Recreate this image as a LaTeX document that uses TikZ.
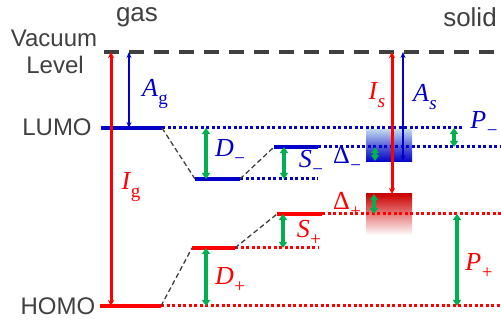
\documentclass[tikz,border=0pt]{standalone}
\usepackage{fontspec}
\newfontfamily\lblfont{Liberation Sans}
\newfontfamily\mfont{Liberation Serif}
\usetikzlibrary{arrows.meta}
\definecolor{myblue}{RGB}{0,0,200}
\definecolor{myred}{RGB}{255,0,0}
\definecolor{mygreen}{RGB}{0,176,80}
\definecolor{mygray}{RGB}{64,64,64}
\definecolor{lightblu}{RGB}{190,212,238}
\newcommand{\sublbl}[2]{{#1}\kern0.5pt\raisebox{-0.28em}{\fontsize{19}{19}\selectfont #2}}
\tikzset{
  txt/.style={inner sep=0pt, text=mygray, font=\lblfont\fontsize{24}{24}\selectfont},
  bigtxt/.style={inner sep=0pt, text=mygray, font=\lblfont\fontsize{26}{26}\selectfont},
  mlbl/.style={inner sep=0pt, font=\mfont\fontsize{26}{26}\selectfont},
  vac/.style={mygray, line width=4pt, dash pattern=on 15pt off 10pt},
  lvlb/.style={myblue, line width=4pt},
  lvlr/.style={myred, line width=4pt},
  dotb/.style={myblue, line width=3pt, dash pattern=on 3pt off 2.5pt},
  dotr/.style={myred, line width=3pt, dash pattern=on 3pt off 2.5pt},
  conn/.style={mygray, line width=1.3pt, dash pattern=on 5pt off 3pt},
  garr/.style={mygreen, line width=3.5pt, {Triangle[length=6pt,width=8pt]}-{Triangle[length=6pt,width=8pt]}},
  rarr/.style={myred, line width=3pt, {Stealth[length=6pt,width=6pt]}-{Stealth[length=6pt,width=6pt]}},
  barr/.style={myblue, line width=2pt, {Stealth[length=6pt,width=5pt]}-{Stealth[length=6pt,width=5pt]}},
}
\begin{document}
\begin{tikzpicture}[x=1pt,y=-1pt]
\useasboundingbox (0,0) rectangle (501,323);
% coordinates
\coordinate (vl) at (104,52); \coordinate (vr) at (501,52);
\coordinate (lg1) at (101,128); \coordinate (lg2) at (162,128); \coordinate (lgd) at (463,128);
\coordinate (dm1) at (195,179); \coordinate (dm2) at (240,179); \coordinate (dmd) at (318,179);
\coordinate (sm1) at (274,147); \coordinate (sm2) at (318,147); \coordinate (smd) at (501,147);
\coordinate (hg1) at (100,306); \coordinate (hg2) at (161,306); \coordinate (hgd) at (501,306);
\coordinate (dp1) at (192,248); \coordinate (dp2) at (235,248); \coordinate (dpd) at (318,248);
\coordinate (sp1) at (277,214); \coordinate (sp2) at (322,214); \coordinate (spd) at (501,214);
% gradient boxes
\shade[top color=lightblu, bottom color=myblue, middle color=lightblu!45!myblue] (366,130) rectangle (412,162);
\shade[top color=red!80!black, middle color=red!80, bottom color=white] (366,194) rectangle (412,235);
% vacuum level
\draw[vac] (vl) -- (vr);
% dotted continuations
\draw[dotb] (lg2) -- (lgd);
\draw[dotb] (dm2) -- (dmd);
\draw[dotb] (sm2) -- (smd);
\draw[dotr] (hg2) -- (hgd);
\draw[dotr] (dp2) -- (dpd);
\draw[dotr] (sp2) -- (spd);
% levels
\draw[lvlb] (lg1) -- (lg2);
\draw[lvlb] (dm1) -- (dm2);
\draw[lvlb] (sm1) -- (sm2);
\draw[lvlr] (hg1) -- (hg2);
\draw[lvlr] (dp1) -- (dp2);
\draw[lvlr] (sp1) -- (sp2);
% dashed connectors
\draw[conn] (lg2) -- (dm1);
\draw[conn] (dm2) -- (sm1);
\draw[conn] (hg2) -- (dp1);
\draw[conn] (dp2) -- (sp1);
% arrows
\coordinate (igt) at (111,52); \coordinate (igb) at (111,306);
\coordinate (agt) at (129,52); \coordinate (agb) at (129,128);
\coordinate (ist) at (392,52); \coordinate (isb) at (392,194);
\coordinate (ast) at (403,52); \coordinate (asb) at (403,161);
\draw[rarr] (igt) -- (igb);
\draw[barr] (agt) -- (agb);
\draw[rarr] (ist) -- (isb);
\draw[barr] (ast) -- (asb);
\coordinate (dmt) at (206,128); \coordinate (dmb) at (206,179);
\coordinate (smt) at (284,147); \coordinate (smb) at (284,179);
\coordinate (pmt) at (454,128); \coordinate (pmb) at (454,147);
\coordinate (xmt) at (375,147); \coordinate (xmb) at (375,161);
\coordinate (xpt) at (374,194); \coordinate (xpb) at (374,214);
\coordinate (spt) at (283,214); \coordinate (spb) at (283,248);
\coordinate (dpt) at (206,248); \coordinate (dpb) at (206,306);
\coordinate (ppt) at (457,214); \coordinate (ppb) at (457,306);
\draw[garr] (dmt) -- (dmb);
\draw[garr] (smt) -- (smb);
\draw[garr] (pmt) -- (pmb);
\draw[garr] (xmt) -- (xmb);
\draw[garr] (xpt) -- (xpb);
\draw[garr] (spt) -- (spb);
\draw[garr] (dpt) -- (dpb);
\draw[garr] (ppt) -- (ppb);
% text
\node[bigtxt] (gas) at (137,17) {gas};
\node[bigtxt] (solid) at (470,17) {solid};
\node[txt] (vac1) at (54,38) {Vacuum};
\node[txt] (vac2) at (55,65) {Level};
\node[txt] (lumo) at (57,127) {LUMO};
\node[txt] (homo) at (58,306) {HOMO};
% math labels
\node[mlbl, text=myblue] (Ag) at (155,94) {\sublbl{\itshape A}{g}};
\node[mlbl, text=myred] (Ig) at (131,187) {\sublbl{\itshape I}{g}};
\node[mlbl, text=myred] (Is) at (377,95) {\sublbl{\itshape I}{\itshape s}};
\node[mlbl, text=myblue] (As) at (425,97) {\sublbl{\itshape A}{\itshape s}};
\node[mlbl, text=myblue] (Pm) at (484,124) {\sublbl{\itshape P}{−}};
\node[mlbl, text=myblue] (Xm) at (347,159) {\sublbl{Δ}{−}};
\node[mlbl, text=myblue] (Dm) at (230,152) {\sublbl{\itshape D}{−}};
\node[mlbl, text=myblue] (Sm) at (311,163) {\sublbl{\itshape S}{−}};
\node[mlbl, text=myred] (Xp) at (347,205) {\sublbl{Δ}{+}};
\node[mlbl, text=myred] (Sp) at (309,233) {\sublbl{\itshape S}{+}};
\node[mlbl, text=myred] (Dp) at (230,280) {\sublbl{\itshape D}{+}};
\node[mlbl, text=myred] (Pp) at (479,266) {\sublbl{\itshape P}{+}};
\end{tikzpicture}
\end{document}
